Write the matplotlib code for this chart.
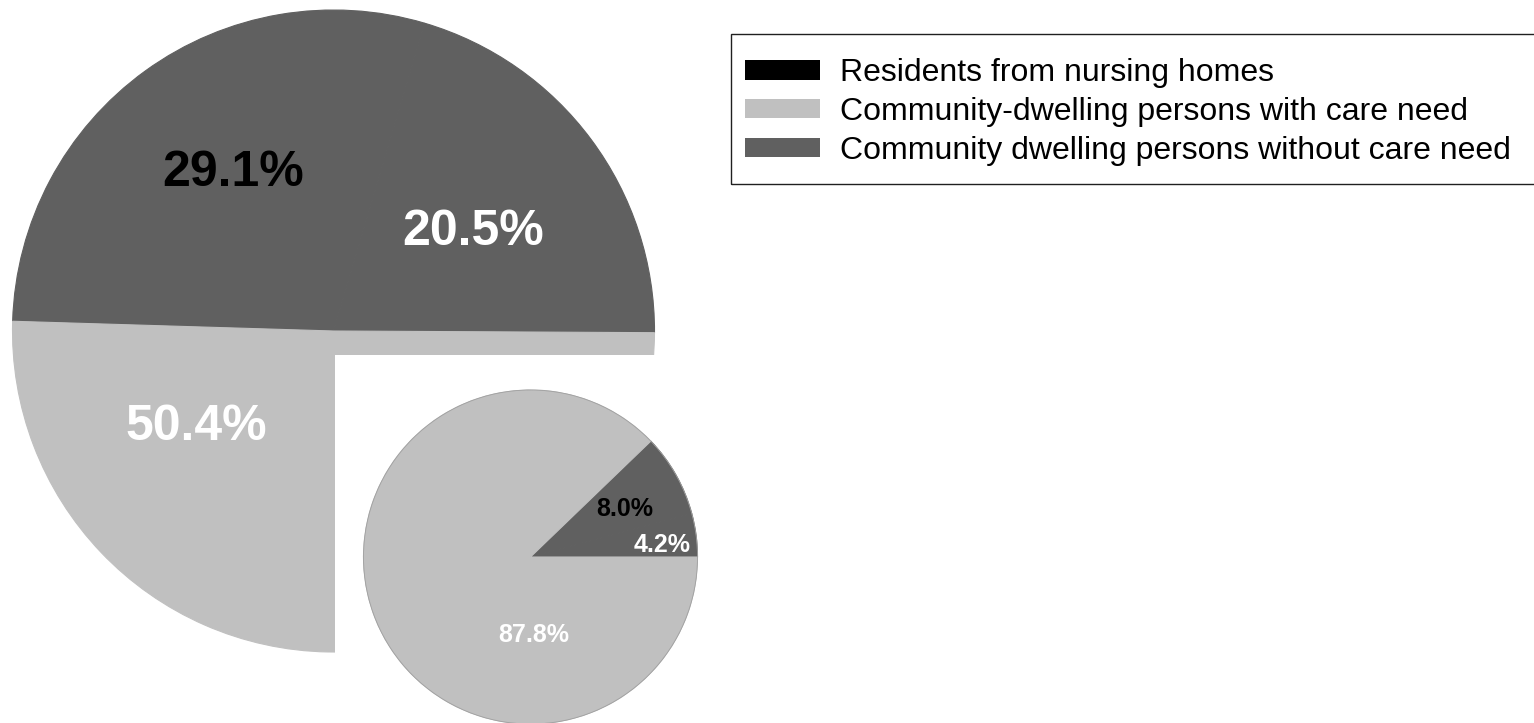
import matplotlib.pyplot as plt
from matplotlib.patches import Patch, Rectangle, Circle

plt.rcParams['font.family'] = ['Liberation Sans', 'DejaVu Sans']

categories = ['Residents from nursing homes',
              'Community-dwelling persons with care need',
              'Community dwelling persons without care need']
category_colors = ['#000000', '#c0c0c0', '#606060']

# big pie: shares in percent, counterclockwise from the right
big_values = [20.5, 29.1, 50.4]
big_colors = ['#606060', '#606060', '#c0c0c0']
big_text_colors = ['white', 'black', 'white']

# small pie
small_values = [4.2, 8.0, 87.8]
small_colors = ['#606060', '#606060', '#c0c0c0']
small_text_colors = ['white', 'black', 'white']

W, H = 1534, 723

# label anchor points (baseline centre, pixels from bottom-left)
big_label_pos = [(473.5, 478), (233.5, 537), (196.5, 283)]
small_label_pos = [(662, 171), (625, 207), (533.5, 81)]


def draw_pie(ax, values, colors, center, radius, startangle, zorder):
    wedges, _ = ax.pie(values, colors=colors, startangle=startangle,
                       center=center, radius=radius)
    for w, c in zip(wedges, colors):
        # edge in face colour hides seams between same-coloured wedges
        w.set_edgecolor(c)
        w.set_linewidth(0.8)
        w.set_zorder(zorder)
    return wedges


def main():
    fig = plt.figure(figsize=(W / 100, H / 100), dpi=100)
    ax = fig.add_axes([0, 0, 1, 1])

    draw_pie(ax, big_values, big_colors, (333.5, 392), 321, -0.3, 1)
    # cut out lower-right quarter
    ax.add_patch(Rectangle((335, 55), 345, 313, facecolor='white',
                           edgecolor='none', zorder=3))
    draw_pie(ax, small_values, small_colors, (530.5, 166), 167, 0, 4)
    ax.add_patch(Circle((530.5, 166), 167, fill=False, edgecolor='#a0a0a0',
                        linewidth=0.6, zorder=4.5))

    for v, c, (x, y) in zip(big_values, big_text_colors, big_label_pos):
        ax.text(x, y, f'{v:.1f}%', color=c, fontsize=36, fontweight='bold',
                ha='center', va='baseline', zorder=5)
    for v, c, (x, y) in zip(small_values, small_text_colors, small_label_pos):
        ax.text(x, y, f'{v:.1f}%', color=c, fontsize=18, fontweight='bold',
                ha='center', va='baseline', zorder=5)

    ax.set_xlim(0, W)
    ax.set_ylim(0, H)
    ax.set_aspect('equal')
    ax.axis('off')

    fs = 23
    fpx = fs * 100 / 72
    handles = [Patch(facecolor=c, edgecolor='none') for c in category_colors]
    fig.legend(handles, categories, loc='center left',
               bbox_to_anchor=(745 / W, 1 - 112 / H), bbox_transform=fig.transFigure,
               frameon=False, fontsize=fs, borderpad=0, borderaxespad=0,
               handlelength=75 / fpx, handleheight=18 / fpx,
               handletextpad=20 / fpx, labelspacing=0.28)
    fig.patches.append(Rectangle((730.5 / W, 1 - 184 / H), 810 / W, 150 / H,
                                 transform=fig.transFigure, fill=False,
                                 edgecolor='#202020', linewidth=1))

    fig.savefig('out.png', dpi=100)


if __name__ == '__main__':
    main()
